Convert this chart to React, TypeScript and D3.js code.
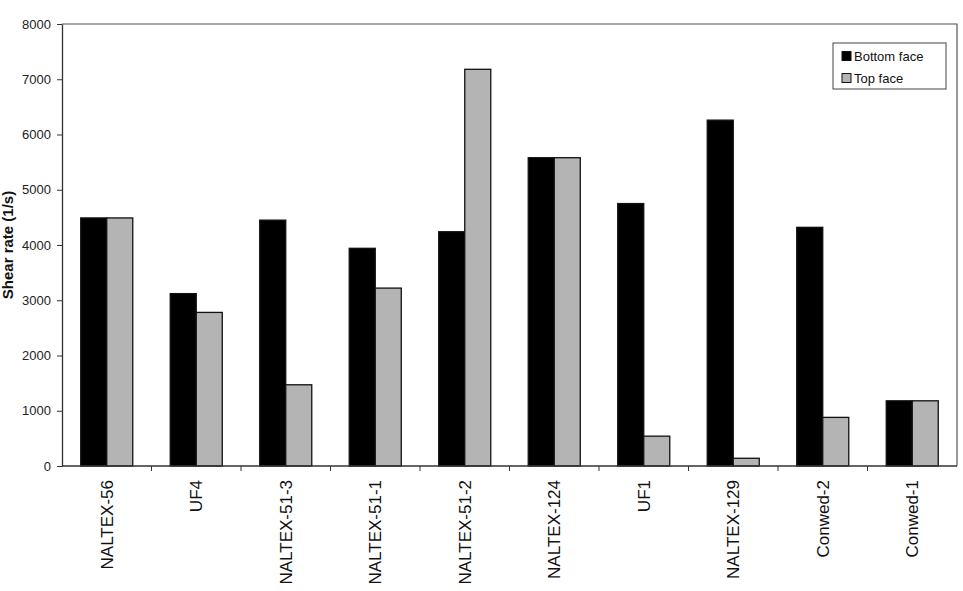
import React, { useEffect, useRef } from "react";
import * as d3 from "d3";

const categories = [
  "NALTEX-56",
  "UF4",
  "NALTEX-51-3",
  "NALTEX-51-1",
  "NALTEX-51-2",
  "NALTEX-124",
  "UF1",
  "NALTEX-129",
  "Conwed-2",
  "Conwed-1",
];
const seriesNames = ["Bottom face", "Top face"];
const bottomFace = [4490, 3120, 4450, 3940, 4240, 5580, 4750, 6260, 4320, 1180];
const topFace = [4490, 2780, 1470, 3220, 7180, 5580, 540, 140, 880, 1180];
const yTicks = [0, 1000, 2000, 3000, 4000, 5000, 6000, 7000, 8000];

const App: React.FC = () => {
  const svgRef = useRef<SVGSVGElement>(null);

  useEffect(() => {
    const width = 963;
    const height = 591;
    const m = { left: 62, top: 24, right: 6, bottom: 125 };
    const font = "Arial, 'Liberation Sans', sans-serif";

    const svg = d3.select(svgRef.current);
    svg.selectAll("*").remove();
    svg.append("rect").attr("width", width).attr("height", height).attr("fill", "#fff");

    const x = d3.scaleBand<string>()
      .domain(categories)
      .range([m.left, width - m.right]);
    const inner = d3.scaleBand<number>()
      .domain([0, 1])
      .range([0, x.bandwidth()])
      .paddingOuter(0.72)
      .paddingInner(0);
    const y = d3.scaleLinear().domain([0, 8000]).range([height - m.bottom, m.top]);

    // plot frame (top + right)
    svg.append("path")
      .attr("d", `M${m.left},${m.top}H${width - m.right}V${height - m.bottom}`)
      .attr("fill", "none")
      .attr("stroke", "#555")
      .attr("stroke-width", 1.2);

    const colors = ["#000000", "#b4b4b4"];
    const series = [bottomFace, topFace];

    series.forEach((vals, si) => {
      svg.append("g")
        .selectAll("rect")
        .data(vals)
        .join("rect")
        .attr("x", (_, i) => x(categories[i])! + inner(si)!)
        .attr("y", (d) => y(d))
        .attr("width", inner.bandwidth())
        .attr("height", (d) => y(0) - y(d))
        .attr("fill", colors[si])
        .attr("stroke", "#111")
        .attr("stroke-width", 1.3);
    });

    // y axis
    const yAxis = svg.append("g")
      .attr("transform", `translate(${m.left},0)`)
      .call(
        d3.axisLeft(y)
          .tickValues(yTicks)
          .tickFormat(d3.format("d"))
          .tickSize(5)
          .tickSizeOuter(0)
          .tickPadding(6)
      );
    yAxis.select(".domain").attr("stroke", "#333").attr("stroke-width", 1.3);
    yAxis.selectAll(".tick line").attr("stroke", "#333");
    yAxis.selectAll("text")
      .attr("font-family", font)
      .attr("font-size", 13)
      .attr("fill", "#222");

    // x axis with ticks at band boundaries
    const xAxisG = svg.append("g").attr("transform", `translate(0,${y(0)})`);
    xAxisG.append("line")
      .attr("x1", m.left)
      .attr("x2", width - m.right)
      .attr("stroke", "#333")
      .attr("stroke-width", 1.3);
    xAxisG.selectAll("line.tk")
      .data(categories.slice(1))
      .join("line")
      .attr("class", "tk")
      .attr("x1", (d) => x(d)!)
      .attr("x2", (d) => x(d)!)
      .attr("y1", 0)
      .attr("y2", 5)
      .attr("stroke", "#333");
    xAxisG.selectAll("text")
      .data(categories)
      .join("text")
      .attr("transform", (d) => `translate(${x(d)! + x.bandwidth() / 2 + 6},14) rotate(-90)`)
      .attr("text-anchor", "end")
      .attr("font-family", font)
      .attr("font-size", 17)
      .attr("fill", "#111")
      .text((d) => d);

    // y title
    svg.append("text")
      .attr("transform", `translate(13,${(m.top + height - m.bottom) / 2}) rotate(-90)`)
      .attr("text-anchor", "middle")
      .attr("font-family", font)
      .attr("font-size", 15)
      .attr("font-weight", "bold")
      .attr("fill", "#111")
      .text("Shear rate (1/s)");

    // legend
    const lg = svg.append("g").attr("transform", "translate(833,43)");
    lg.append("rect")
      .attr("width", 113)
      .attr("height", 46)
      .attr("fill", "#fff")
      .attr("stroke", "#444");
    seriesNames.forEach((name, i) => {
      const row = lg.append("g").attr("transform", `translate(9,${13 + i * 22})`);
      row.append("rect")
        .attr("x", 0)
        .attr("y", -4.5)
        .attr("width", 9)
        .attr("height", 9)
        .attr("fill", colors[i])
        .attr("stroke", "#111");
      row.append("text")
        .attr("x", 12)
        .attr("dy", "0.36em")
        .attr("font-family", font)
        .attr("font-size", 13)
        .attr("fill", "#111")
        .text(name);
    });
  }, []);

  return (
    <svg
      ref={svgRef}
      width={963}
      height={591}
      style={{ position: "absolute", left: 0, top: 0 }}
    />
  );
};

export default App;
